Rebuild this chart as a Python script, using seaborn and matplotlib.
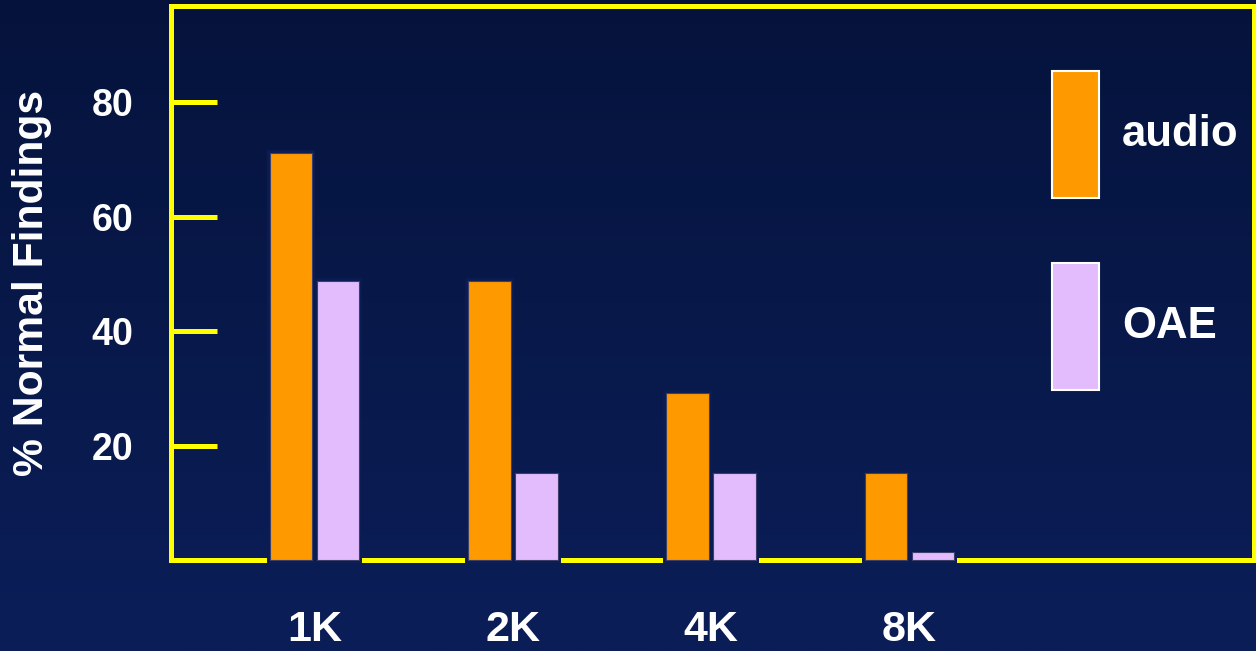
import numpy as np
import pandas as pd
import matplotlib
matplotlib.use("Agg")
import matplotlib.pyplot as plt
import seaborn as sns
from matplotlib.patches import Patch
from matplotlib.colors import LinearSegmentedColormap

# ---- data ----
freqs = ["1K", "2K", "4K", "8K"]
audio = [71.1, 48.8, 29.3, 15.3]
oae = [48.8, 15.3, 15.3, 1.4]
series = ["audio", "OAE"]
yticks = [20, 40, 60, 80]
ylabel = "% Normal Findings"

df = pd.DataFrame({
    "freq": freqs * 2,
    "pct": audio + oae,
    "test": [series[0]] * len(freqs) + [series[1]] * len(freqs),
})

# ---- style ----
sns.set_theme(style="white")
plt.rcParams['font.family'] = ['Liberation Sans', 'DejaVu Sans']
plt.rcParams['font.weight'] = 'bold'

ORANGE = "#ff9900"
LILAC = "#e2bcfc"
YELLOW = "#ffff00"
BG_TOP = "#05133c"
BG_BOT = "#0b1e58"
GAP_COL = "#0a1c52"

fig = plt.figure(figsize=(12.56, 6.51), dpi=100)

# gradient background
bgax = fig.add_axes([0, 0, 1, 1], zorder=-10)
cmap = LinearSegmentedColormap.from_list("bg", [BG_TOP, BG_BOT])
bgax.imshow(np.linspace(0, 1, 256).reshape(-1, 1), aspect='auto', cmap=cmap,
            extent=[0, 1, 0, 1])
bgax.axis('off')

ax = fig.add_axes([0.13654, 0.13902, 0.99801 - 0.13654, 0.99109 - 0.13902])
ax.set_facecolor('none')

common = dict(data=df, x="freq", y="pct", hue="test", width=0.474, gap=0.094,
              saturation=1, errorbar=None, legend=False, ax=ax, clip_on=False)
# gap-maker layer (cuts the yellow baseline around each bar)
sns.barplot(palette=[GAP_COL, GAP_COL], edgecolor=GAP_COL, linewidth=4.3,
            zorder=3, **common)
# actual bars
sns.barplot(palette=[ORANGE, LILAC], edgecolor="#3d3f6b", linewidth=0.8,
            zorder=4, **common)

ax.set_xlim(-0.720, 4.734)
ax.set_ylim(0, 96.8)
ax.set_yticks(yticks)
ax.set_xlabel("")
ax.set_ylabel(ylabel, fontsize=30.7, color='white', fontweight='bold')
ax.yaxis.set_label_coords(-0.1104, 0.5)

for s in ax.spines.values():
    s.set_visible(True)
    s.set_color(YELLOW)
    s.set_linewidth(3.6)

ax.tick_params(axis='y', direction='in', length=32.8, width=3.6, color=YELLOW,
               pad=27.7, labelsize=27, labelcolor='white', left=True)
for lab in ax.get_yticklabels():
    lab.set_fontweight('bold')
ax.tick_params(axis='x', length=0, pad=36, labelsize=31, labelcolor='white')
for lab in ax.get_xticklabels():
    lab.set_fontweight('bold')

handles = [Patch(facecolor=c, edgecolor='white', linewidth=1.5, label=s)
           for c, s in zip([ORANGE, LILAC], series)]
leg = ax.legend(handles=handles, loc='upper left',
                bbox_to_anchor=(1052 / 1256, 1 - 70.7 / 651),
                bbox_transform=fig.transFigure, frameon=False,
                handlelength=1.07, handleheight=4.09, labelspacing=1.486,
                handletextpad=0.53, borderpad=0, borderaxespad=0,
                labelcolor='white', prop={'weight': 'bold', 'size': 31.5})

fig.savefig("out.png", dpi=100)
